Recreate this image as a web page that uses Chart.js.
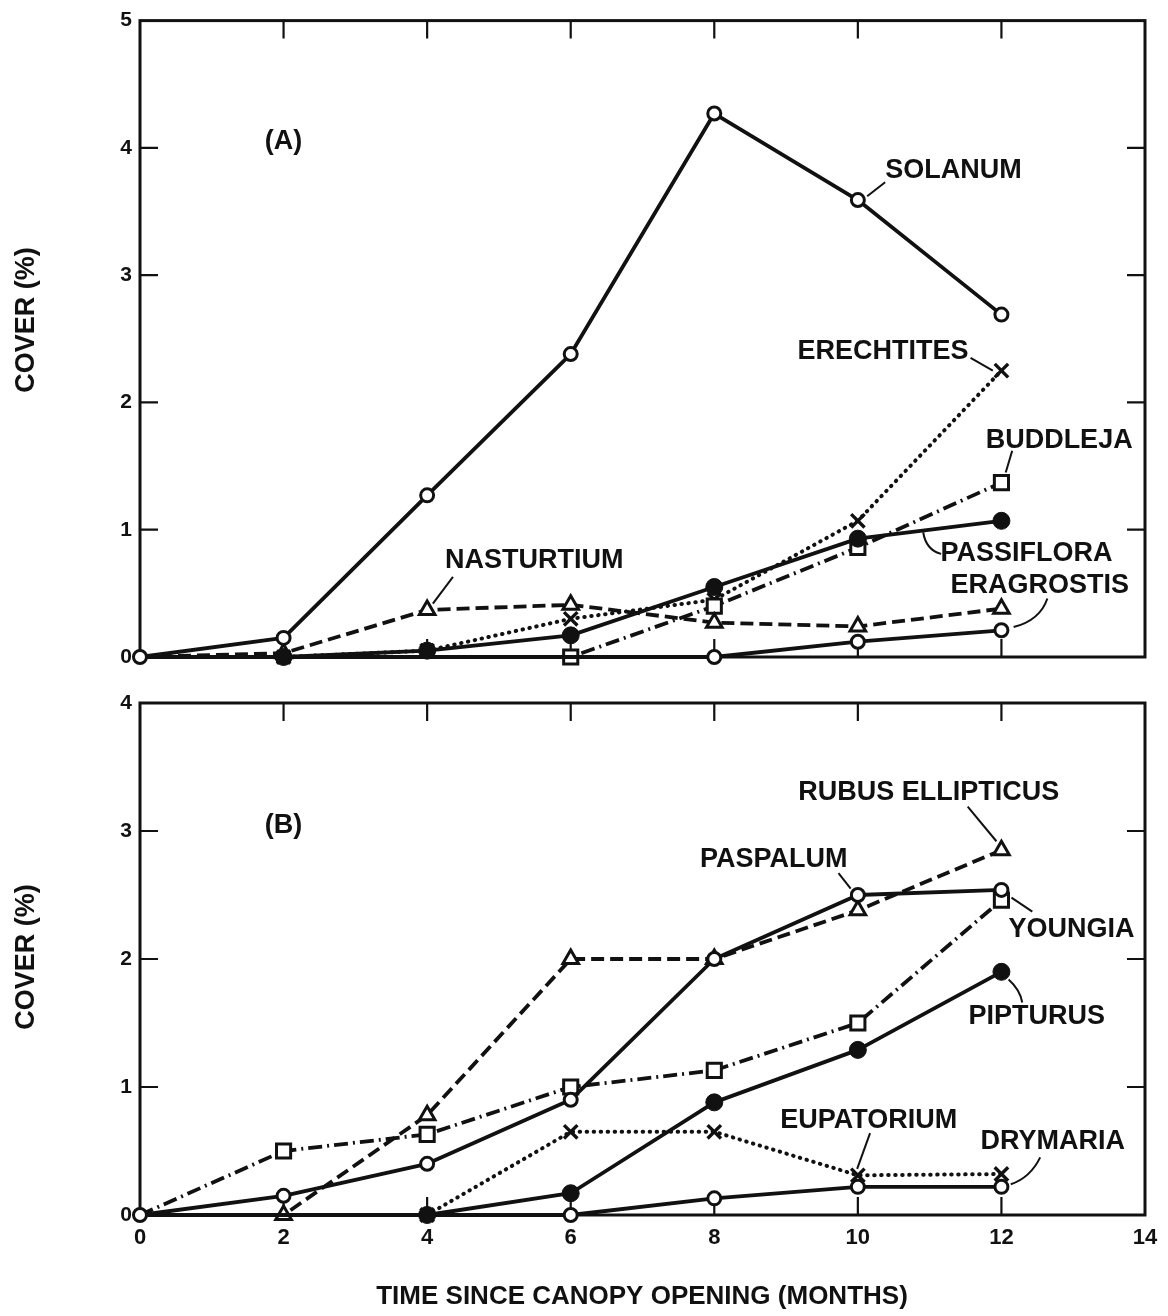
<!DOCTYPE html>
<html><head><meta charset="utf-8">
<script src="https://cdn.jsdelivr.net/npm/chart.js@4.4.1/dist/chart.umd.min.js"></script>
<style>
html,body{margin:0;padding:0;background:#fff;}
#wrap{position:relative;width:1168px;height:1316px;background:#fff;}
canvas{position:absolute;left:0;}
#cA{top:0}
#cB{top:680px}
</style></head><body>
<div id="wrap"><canvas id="cA" width="1168" height="680" style="width:1168px;height:680px"></canvas><canvas id="cB" width="1168" height="636" style="width:1168px;height:636px"></canvas></div>
<script>
// ---- data ----
const months = [0, 2, 4, 6, 8, 10, 12];
// Panel A
const solanum    = [0, 0.15, 1.27, 2.38, 4.27, 3.59, 2.69];
const passiflora = [0, 0, 0.05, 0.17, 0.55, 0.93, 1.07];
const nasturtium = [0, 0.03, 0.37, 0.41, 0.27, 0.24, 0.38];
const eragrostis = [0, 0, 0, 0, 0, 0.12, 0.21];
const buddleja   = [0, 0, 0, 0, 0.40, 0.86, 1.37];
const erechtites = [0, 0, 0.05, 0.30, 0.45, 1.07, 2.25];
// Panel B
const paspalum   = [0, 0.15, 0.40, 0.90, 2.00, 2.50, 2.54];
const pipturus   = [0, 0, 0, 0.17, 0.88, 1.29, 1.90];
const rubus      = [0, 0, 0.78, 2.00, 2.00, 2.38, 2.85];
const youngia    = [0, 0.50, 0.63, 1.00, 1.13, 1.50, 2.46];
const eupatorium = [0, 0, 0, 0.65, 0.65, 0.31, 0.32];
const drymaria   = [0, 0, 0, 0, 0.13, 0.22, 0.22];
// axes
const xMax = 14, xStep = 2;
const yMaxA = 5, yMaxB = 4;
const yTitle = 'COVER (%)';
const xTitle = 'TIME SINCE CANOPY OPENING (MONTHS)';

// ---- annotations (data coordinates) ----
const notesA = [
  {t:'(A)', m:2.0, v:4.05, c:true},
  {t:'SOLANUM', m:10.38, v:3.82, lead:[[10.13,3.62],[10.38,3.73]]},
  {t:'ERECHTITES', m:9.16, v:2.40, lead:[[11.57,2.35],[11.88,2.25]]},
  {t:'BUDDLEJA', m:11.78, v:1.70, lead:[[12.15,1.62],[12.06,1.45]]},
  {t:'PASSIFLORA', m:11.15, v:0.81, lead:[[10.91,0.98],[10.95,0.84],[11.16,0.81]]},
  {t:'ERAGROSTIS', m:11.29, v:0.56, lead:[[12.64,0.46],[12.54,0.29],[12.17,0.235]]},
  {t:'NASTURTIUM', m:4.25, v:0.76, lead:[[4.36,0.63],[4.08,0.42]]}
];
const notesB = [
  {t:'(B)', m:2.0, v:3.04, c:true},
  {t:'RUBUS ELLIPTICUS', m:9.17, v:3.30, lead:[[11.53,3.19],[11.93,2.92]]},
  {t:'PASPALUM', m:7.80, v:2.78, lead:[[9.73,2.67],[9.90,2.55]]},
  {t:'YOUNGIA', m:12.10, v:2.23, lead:[[12.14,2.48],[12.43,2.37]]},
  {t:'PIPTURUS', m:11.54, v:1.55, lead:[[12.10,1.84],[12.26,1.76],[12.29,1.66]]},
  {t:'EUPATORIUM', m:8.92, v:0.74, lead:[[10.17,0.64],[9.99,0.36]]},
  {t:'DRYMARIA', m:11.71, v:0.57, lead:[[12.54,0.45],[12.40,0.29],[12.13,0.24]]}
];

const INK = '#111';
const FONT = "'Liberation Sans', Arial, sans-serif";

function pts(vals){ return vals.map((v,i)=>({x:months[i], y:v})); }

const STY = {
  openCircle: {pointStyle:'circle', r:6.5, fill:'#fff', bw:3},
  dot:        {pointStyle:'circle', r:8.5, fill:INK, bw:1},
  tri:        {pointStyle:'triangle', r:9, fill:'#fff', bw:3},
  sq:         {pointStyle:'rect', r:10, fill:'#fff', bw:3},
  x:          {pointStyle:'crossRot', r:9.5, fill:'#fff', bw:3.4}
};
const DASH = {solid:[], dashed:[13,6], dashdot:[14,5,2,5], dotted:[0.5,6.5]};

function ds(label, vals, mk, dash){
  const s = STY[mk];
  return {
    label, data: pts(vals), clip:false, tension:0,
    borderColor: INK, borderWidth: dash==='dotted'?4:3.8,
    borderDash: DASH[dash], borderCapStyle: dash==='dotted'?'round':'butt',
    borderJoinStyle:'round',
    pointStyle: s.pointStyle, pointBackgroundColor: s.fill, pointBorderColor: INK,
    pointBorderWidth: s.bw, pointHoverRadius: 0,
    pointRadius: (ctx) => {
      if (ctx.type !== 'data') return s.r;
      const d = ctx.dataset.data, i = ctx.dataIndex;
      if (d[i].y !== 0) return s.r;
      if (i === 0) return ctx.datasetIndex === 0 ? s.r : 0;
      const nx = d[i+1];
      return (nx && nx.y !== 0) ? s.r : 0;
    }
  };
}

function panelPlugin(notes, titleCY, withXTitle){
  return {
    id:'panel',
    beforeDatasetsDraw(chart){
      const {ctx, chartArea:a, scales:{x, y}} = chart;
      ctx.save();
      ctx.strokeStyle = INK; ctx.lineWidth = 3; ctx.setLineDash([]);
      ctx.strokeRect(a.left, a.top, a.right-a.left, a.bottom-a.top);
      ctx.lineWidth = 2.2;
      const TL = 18;
      ctx.beginPath();
      y.ticks.forEach(t => {
        if (t.value <= y.min || t.value >= y.max) return;
        const py = y.getPixelForValue(t.value);
        ctx.moveTo(a.left, py); ctx.lineTo(a.left+TL, py);
        ctx.moveTo(a.right, py); ctx.lineTo(a.right-TL, py);
      });
      for (let v = xStep; v < xMax; v += xStep){
        const px = x.getPixelForValue(v);
        ctx.moveTo(px, a.bottom); ctx.lineTo(px, a.bottom-TL);
        ctx.moveTo(px, a.top); ctx.lineTo(px, a.top+TL);
      }
      ctx.stroke();
      ctx.restore();
    },
    afterDraw(chart){
      const {ctx, chartArea:a, scales:{x, y}} = chart;
      ctx.save();
      ctx.fillStyle = INK; ctx.strokeStyle = INK; ctx.lineWidth = 2; ctx.setLineDash([]);
      ctx.font = `bold 27px ${FONT}`;
      ctx.textBaseline = 'middle';
      notes.forEach(n => {
        ctx.textAlign = n.c ? 'center' : 'left';
        ctx.fillText(n.t, x.getPixelForValue(n.m), y.getPixelForValue(n.v));
        if (n.lead){
          const p = n.lead.map(q => [x.getPixelForValue(q[0]), y.getPixelForValue(q[1])]);
          ctx.beginPath(); ctx.moveTo(p[0][0], p[0][1]);
          if (p.length === 3) ctx.quadraticCurveTo(p[1][0], p[1][1], p[2][0], p[2][1]);
          else ctx.lineTo(p[1][0], p[1][1]);
          ctx.stroke();
        }
      });
      // y title
      ctx.save();
      ctx.translate(27, titleCY);
      ctx.rotate(-Math.PI/2);
      ctx.textAlign = 'center';
      ctx.font = `bold 27px ${FONT}`;
      ctx.fillText(yTitle, 0, 0);
      ctx.restore();
      if (withXTitle){
        ctx.textAlign = 'center';
        ctx.font = `bold 26px ${FONT}`;
        ctx.fillText(xTitle, 642, chart.height - 19);
      }
      ctx.restore();
    }
  };
}

function makeChart(id, datasets, yMax, showX, notes, titleCY){
  return new Chart(document.getElementById(id), {
    type:'line',
    data:{datasets},
    options:{
      responsive:false, maintainAspectRatio:false, animation:false, devicePixelRatio:1,
      layout:{padding:{left:0, right:23, top: showX ? 23 : 18, bottom: showX ? 0 : 23}},
      plugins:{legend:{display:false}, tooltip:{enabled:false}},
      events:[],
      scales:{
        x:{type:'linear', min:0, max:xMax, display: showX,
           ticks:{stepSize:xStep, color:INK, font:{family:FONT, size:22, weight:'bold'}, padding:10, maxRotation:0},
           grid:{display:false, drawTicks:false}, border:{display:false},
           afterFit:(s)=>{ s.height = showX ? 101 : 0; }},
        y:{min:0, max:yMax,
           ticks:{stepSize:1, color:INK, font:{family:FONT, size:21, weight:'bold'}, padding:8},
           grid:{display:false, drawTicks:false}, border:{display:false},
           afterFit:(s)=>{ s.width = 140; }}
      }
    },
    plugins:[panelPlugin(notes, titleCY, showX)]
  });
}

makeChart('cA', [
  ds('Solanum', solanum, 'openCircle', 'solid'),
  ds('Passiflora', passiflora, 'dot', 'solid'),
  ds('Nasturtium', nasturtium, 'tri', 'dashed'),
  ds('Eragrostis', eragrostis, 'openCircle', 'solid'),
  ds('Buddleja', buddleja, 'sq', 'dashdot'),
  ds('Erechtites', erechtites, 'x', 'dotted')
], yMaxA, false, notesA, 320);

makeChart('cB', [
  ds('Paspalum', paspalum, 'openCircle', 'solid'),
  ds('Pipturus', pipturus, 'dot', 'solid'),
  ds('Rubus ellipticus', rubus, 'tri', 'dashed'),
  ds('Youngia', youngia, 'sq', 'dashdot'),
  ds('Eupatorium', eupatorium, 'x', 'dotted'),
  ds('Drymaria', drymaria, 'openCircle', 'solid')
], yMaxB, true, notesB, 277);
</script>
</body></html>
